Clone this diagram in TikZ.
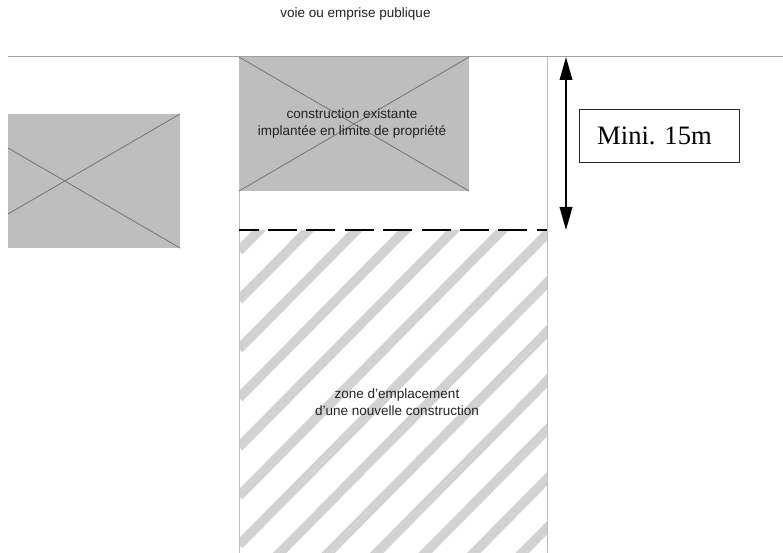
\documentclass[tikz,border=0pt]{standalone}
\usepackage{fontspec}
\setmainfont{Liberation Sans}
\newfontfamily\timesf{Liberation Serif}
\usetikzlibrary{arrows.meta}
\definecolor{bldg}{HTML}{BEBEBE}
\definecolor{diag}{HTML}{7A7A7A}
\definecolor{hatch}{HTML}{D2D2D2}
\definecolor{limitline}{HTML}{A0A0A0}
\definecolor{sideline}{HTML}{BEBEBE}
\definecolor{txt}{HTML}{222222}
\tikzset{
  building/.style={fill=bldg,draw=none},
  crossline/.style={draw=diag,line width=0.9pt},
  label/.style={text=txt,align=center,inner sep=0pt,font=\fontsize{13.5}{17}\selectfont},
  limit/.style={draw=limitline,line width=1pt},
  side/.style={draw=sideline,line width=1pt},
  stripe/.style={draw=hatch,line width=9.5pt},
  setback/.style={draw=black,line width=2pt,dash pattern=on 29pt off 9.4pt,dash phase=9.5pt},
  measure/.style={draw=black,line width=2pt,{Stealth[length=23pt,width=12.5pt,inset=0pt]}-{Stealth[length=23pt,width=12.5pt,inset=0pt]},shorten >=-1pt,shorten <=-1pt},
  minibox/.style={draw=black!85,fill=white,line width=1pt,minimum width=160pt,minimum height=53pt,inner sep=0pt,font=\timesf\fontsize{26.6}{30}\selectfont}
}
\begin{document}
\begin{tikzpicture}[x=1pt,y=-1pt]
\useasboundingbox (0,0) rectangle (783,553);
\fill[white] (0,0) rectangle (783,553);
% hatched zone
\begin{scope}
\clip (239,230) rectangle (547,553);
\foreach \k in {-2,...,16}{
  \pgfmathsetmacro{\yy}{251+49*\k}
  \draw[stripe] (239,\yy) -- (639,\yy-404);
}
\end{scope}
% plot lines
\coordinate (tl) at (8,57);
\coordinate (tr) at (783,57);
\draw[limit] (tl) -- (tr);
\coordinate (la) at (239,191);
\coordinate (lb) at (239,553);
\coordinate (ra) at (547,57);
\coordinate (rb) at (547,553);
\draw[side] (la) -- (lb);
\draw[side] (ra) -- (rb);
% existing building
\fill[building] (239,57) rectangle (469,191);
\coordinate (e1) at (239,57);
\coordinate (e2) at (469,191);
\coordinate (e3) at (469,57);
\coordinate (e4) at (239,191);
\draw[crossline] (e1) -- (e2);
\draw[crossline] (e3) -- (e4);
% left building
\fill[building] (8,114) rectangle (180,248);
\coordinate (w1) at (8,148);
\coordinate (w2) at (180,248);
\coordinate (w3) at (8,214);
\coordinate (w4) at (180,114);
\draw[crossline] (w1) -- (w2);
\draw[crossline] (w3) -- (w4);
% setback line
\coordinate (d1) at (239,230);
\coordinate (d2) at (547,230);
\draw[setback] (d1) -- (d2);
% dimension arrow
\coordinate (m1) at (566,58);
\coordinate (m2) at (566,229);
\draw[measure] (m1) -- (m2);
% labels
\node[minibox] (mini) at (659,136) {\hspace{-9pt}Mini. 15m};
\node[label] (title) at (355.5,14.5) {voie ou emprise publique};
\node[label] (exist) at (352,123.5) {construction existante\\implantée en limite de propriété};
\node[label] (zone) at (397,402.5) {zone d’emplacement\\d’une nouvelle construction};
\end{tikzpicture}
\end{document}
